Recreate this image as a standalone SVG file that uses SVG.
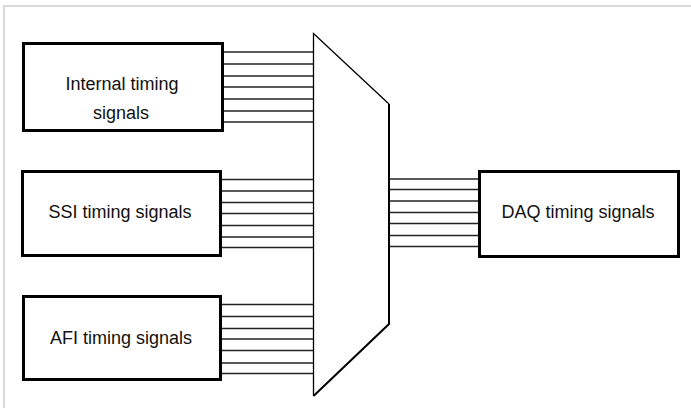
<svg xmlns="http://www.w3.org/2000/svg" width="691" height="408" viewBox="0 0 691 408">
<style>
.box{fill:#fff;stroke:#000;stroke-width:3}
.lbl{font-family:"Liberation Sans",Arial,sans-serif;font-size:18px;fill:#111;text-anchor:middle}
.bus line{stroke:#222;stroke-width:1.4}
.mux{fill:none;stroke:#000;stroke-linejoin:miter}
</style>
<rect width="691" height="408" fill="#fff"/>
<path d="M4 408V6H691" fill="none" stroke="#dadada" stroke-width="2.2"/>
<g id="connectors" class="bus">
<line x1="224" y1="52" x2="313" y2="52"/><line x1="224" y1="64" x2="313" y2="64"/><line x1="224" y1="76" x2="313" y2="76"/><line x1="224" y1="87" x2="313" y2="87"/><line x1="224" y1="99" x2="313" y2="99"/><line x1="224" y1="111" x2="313" y2="111"/><line x1="224" y1="122" x2="313" y2="122"/>
<line x1="222" y1="179.5" x2="313" y2="179.5"/><line x1="222" y1="191" x2="313" y2="191"/><line x1="222" y1="202.5" x2="313" y2="202.5"/><line x1="222" y1="213.5" x2="313" y2="213.5"/><line x1="222" y1="225.5" x2="313" y2="225.5"/><line x1="222" y1="237" x2="313" y2="237"/><line x1="222" y1="247.5" x2="313" y2="247.5"/>
<line x1="222" y1="304.5" x2="313" y2="304.5"/><line x1="222" y1="316.5" x2="313" y2="316.5"/><line x1="222" y1="328.5" x2="313" y2="328.5"/><line x1="222" y1="339" x2="313" y2="339"/><line x1="222" y1="350.5" x2="313" y2="350.5"/><line x1="222" y1="363" x2="313" y2="363"/><line x1="222" y1="373.5" x2="313" y2="373.5"/>
<line x1="390" y1="179" x2="478" y2="179"/><line x1="390" y1="189.5" x2="478" y2="189.5"/><line x1="390" y1="201" x2="478" y2="201"/><line x1="390" y1="212.5" x2="478" y2="212.5"/><line x1="390" y1="223.5" x2="478" y2="223.5"/><line x1="390" y1="235.5" x2="478" y2="235.5"/><line x1="390" y1="246.5" x2="478" y2="246.5"/>
</g>
<g id="mux">
<path class="mux" d="M313.5 396V33.5L389 104" stroke-width="1.3"/>
<path class="mux" d="M389 104V324L313.5 396" stroke-width="2"/>
</g>
<g id="internal">
<rect class="box" x="23.5" y="43.5" width="199" height="87"/>
<text class="lbl" x="122" y="90">Internal timing</text>
<text class="lbl" x="121" y="119">signals</text>
</g>
<g id="ssi">
<rect class="box" x="22.5" y="171.5" width="198" height="84"/>
<text class="lbl" x="120" y="218">SSI timing signals</text>
</g>
<g id="afi">
<rect class="box" x="23.5" y="296.5" width="197" height="83"/>
<text class="lbl" x="121" y="344">AFI timing signals</text>
</g>
<g id="daq">
<rect class="box" x="479.5" y="171.5" width="199" height="85"/>
<text class="lbl" x="578" y="218">DAQ timing signals</text>
</g>
</svg>
